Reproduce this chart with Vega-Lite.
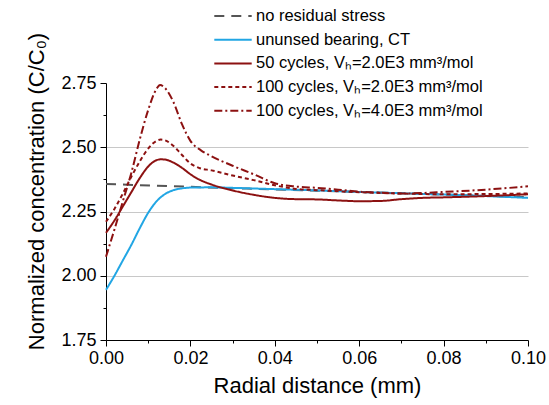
{
  "$schema": "https://vega.github.io/schema/vega-lite/v6.json",
  "width": 422,
  "height": 257,
  "autosize": {"type": "none"},
  "padding": {"left": 106, "top": 83, "right": 21, "bottom": 65},
  "background": "white",
  "config": {
    "view": {"stroke": null},
    "font": "Liberation Sans",
    "axis": {"domainColor": "black", "tickColor": "black", "labelColor": "black", "titleColor": "black", "labelFont": "Liberation Sans", "titleFont": "Liberation Sans", "titleFontWeight": "normal"},
    "legend": {"labelFont": "Liberation Sans", "labelColor": "black"}
  },
  "data": {
    "values": [
      {"s": "nrs", "x": 0, "c": 2.357},
      {"s": "nrs", "x": 0.02, "c": 2.346},
      {"s": "nrs", "x": 0.04, "c": 2.336},
      {"s": "nrs", "x": 0.06, "c": 2.326},
      {"s": "nrs", "x": 0.08, "c": 2.316},
      {"s": "nrs", "x": 0.1, "c": 2.306},
      {"s": "ct", "x": 0, "c": 1.945},
      {"s": "ct", "x": 0.002, "c": 2.0},
      {"s": "ct", "x": 0.004, "c": 2.06},
      {"s": "ct", "x": 0.006, "c": 2.12},
      {"s": "ct", "x": 0.008, "c": 2.185},
      {"s": "ct", "x": 0.01, "c": 2.245},
      {"s": "ct", "x": 0.012, "c": 2.29},
      {"s": "ct", "x": 0.014, "c": 2.318},
      {"s": "ct", "x": 0.016, "c": 2.333},
      {"s": "ct", "x": 0.018, "c": 2.34},
      {"s": "ct", "x": 0.02, "c": 2.343},
      {"s": "ct", "x": 0.025, "c": 2.344},
      {"s": "ct", "x": 0.03, "c": 2.342},
      {"s": "ct", "x": 0.04, "c": 2.337},
      {"s": "ct", "x": 0.05, "c": 2.332},
      {"s": "ct", "x": 0.06, "c": 2.326},
      {"s": "ct", "x": 0.07, "c": 2.321},
      {"s": "ct", "x": 0.08, "c": 2.316},
      {"s": "ct", "x": 0.09, "c": 2.31},
      {"s": "ct", "x": 0.1, "c": 2.303},
      {"s": "c50", "x": 0, "c": 2.167},
      {"s": "c50", "x": 0.002, "c": 2.215},
      {"s": "c50", "x": 0.004, "c": 2.27},
      {"s": "c50", "x": 0.006, "c": 2.325},
      {"s": "c50", "x": 0.008, "c": 2.38},
      {"s": "c50", "x": 0.01, "c": 2.425},
      {"s": "c50", "x": 0.012, "c": 2.45},
      {"s": "c50", "x": 0.013, "c": 2.453},
      {"s": "c50", "x": 0.014, "c": 2.452},
      {"s": "c50", "x": 0.016, "c": 2.44},
      {"s": "c50", "x": 0.018, "c": 2.42},
      {"s": "c50", "x": 0.02, "c": 2.395},
      {"s": "c50", "x": 0.022, "c": 2.375},
      {"s": "c50", "x": 0.025, "c": 2.355},
      {"s": "c50", "x": 0.03, "c": 2.332},
      {"s": "c50", "x": 0.035, "c": 2.315},
      {"s": "c50", "x": 0.04, "c": 2.303},
      {"s": "c50", "x": 0.045, "c": 2.298},
      {"s": "c50", "x": 0.05, "c": 2.297},
      {"s": "c50", "x": 0.055, "c": 2.293},
      {"s": "c50", "x": 0.06, "c": 2.29},
      {"s": "c50", "x": 0.065, "c": 2.291},
      {"s": "c50", "x": 0.07, "c": 2.298},
      {"s": "c50", "x": 0.075, "c": 2.303},
      {"s": "c50", "x": 0.08, "c": 2.305},
      {"s": "c50", "x": 0.09, "c": 2.31},
      {"s": "c50", "x": 0.1, "c": 2.317},
      {"s": "c100a", "x": 0, "c": 2.21},
      {"s": "c100a", "x": 0.002, "c": 2.26},
      {"s": "c100a", "x": 0.004, "c": 2.32},
      {"s": "c100a", "x": 0.006, "c": 2.385},
      {"s": "c100a", "x": 0.008, "c": 2.445},
      {"s": "c100a", "x": 0.01, "c": 2.495},
      {"s": "c100a", "x": 0.012, "c": 2.525},
      {"s": "c100a", "x": 0.013, "c": 2.53},
      {"s": "c100a", "x": 0.014, "c": 2.527},
      {"s": "c100a", "x": 0.016, "c": 2.505},
      {"s": "c100a", "x": 0.018, "c": 2.47},
      {"s": "c100a", "x": 0.02, "c": 2.437},
      {"s": "c100a", "x": 0.022, "c": 2.42},
      {"s": "c100a", "x": 0.025, "c": 2.41},
      {"s": "c100a", "x": 0.03, "c": 2.39},
      {"s": "c100a", "x": 0.035, "c": 2.372},
      {"s": "c100a", "x": 0.04, "c": 2.352},
      {"s": "c100a", "x": 0.045, "c": 2.338},
      {"s": "c100a", "x": 0.05, "c": 2.333},
      {"s": "c100a", "x": 0.06, "c": 2.325},
      {"s": "c100a", "x": 0.07, "c": 2.32},
      {"s": "c100a", "x": 0.08, "c": 2.317},
      {"s": "c100a", "x": 0.09, "c": 2.318},
      {"s": "c100a", "x": 0.1, "c": 2.32},
      {"s": "c100b", "x": 0, "c": 2.074},
      {"s": "c100b", "x": 0.002, "c": 2.18},
      {"s": "c100b", "x": 0.004, "c": 2.29},
      {"s": "c100b", "x": 0.006, "c": 2.4},
      {"s": "c100b", "x": 0.008, "c": 2.53},
      {"s": "c100b", "x": 0.01, "c": 2.645},
      {"s": "c100b", "x": 0.012, "c": 2.728},
      {"s": "c100b", "x": 0.0128, "c": 2.742},
      {"s": "c100b", "x": 0.014, "c": 2.73},
      {"s": "c100b", "x": 0.016, "c": 2.675},
      {"s": "c100b", "x": 0.018, "c": 2.59},
      {"s": "c100b", "x": 0.02, "c": 2.525},
      {"s": "c100b", "x": 0.0225, "c": 2.488},
      {"s": "c100b", "x": 0.025, "c": 2.465},
      {"s": "c100b", "x": 0.03, "c": 2.428},
      {"s": "c100b", "x": 0.035, "c": 2.395},
      {"s": "c100b", "x": 0.04, "c": 2.36},
      {"s": "c100b", "x": 0.045, "c": 2.347},
      {"s": "c100b", "x": 0.05, "c": 2.342},
      {"s": "c100b", "x": 0.055, "c": 2.335},
      {"s": "c100b", "x": 0.06, "c": 2.327},
      {"s": "c100b", "x": 0.065, "c": 2.323},
      {"s": "c100b", "x": 0.07, "c": 2.32},
      {"s": "c100b", "x": 0.075, "c": 2.322},
      {"s": "c100b", "x": 0.08, "c": 2.326},
      {"s": "c100b", "x": 0.09, "c": 2.335},
      {"s": "c100b", "x": 0.1, "c": 2.348}
    ]
  },
  "layer": [
    {
      "mark": {"type": "line", "interpolate": "monotone", "strokeWidth": 2},
      "encoding": {
        "x": {
          "field": "x", "type": "quantitative",
          "scale": {"domain": [0, 0.1], "nice": false, "zero": false},
          "axis": {"orient": "bottom", "values": [0, 0.02, 0.04, 0.06, 0.08, 0.1], "format": ".2f", "grid": false, "tickSize": 6, "labelFontSize": 18, "labelPadding": 3, "title": "Radial distance (mm)", "titleFontSize": 22, "titlePadding": 8, "labelFlush": false}
        },
        "y": {
          "field": "c", "type": "quantitative",
          "scale": {"domain": [1.75, 2.75], "nice": false, "zero": false},
          "axis": {"orient": "left", "values": [1.75, 2.0, 2.25, 2.5, 2.75], "format": ".2f", "grid": true, "gridColor": "#c8c8c8", "gridOpacity": {"condition": {"test": "datum.value > 1.8 && datum.value < 2.7", "value": 1}, "value": 0}, "tickSize": 6, "labelFontSize": 18, "labelPadding": 4, "title": "Normalized concentration (C/C₀)", "titleFontSize": 22, "titlePadding": 12, "titleY": 108}
        },
        "color": {
          "field": "s", "type": "nominal",
          "scale": {"domain": ["nrs", "ct", "c50", "c100a", "c100b"], "range": ["#555555", "#22a6e4", "#8c1111", "#8c1111", "#8c1111"]},
          "legend": {
            "title": null, "orient": "none", "legendX": 115, "legendY": -79, "padding": 0,
            "symbolType": "M-1.7,0H1.7", "symbolSize": 484, "symbolStrokeWidth": 2, "symbolFillColor": "transparent", "labelFontSize": 16.5, "labelOffset": 11, "rowPadding": 2.7, "labelLimit": 400,
            "labelExpr": "{'nrs': 'no residual stress', 'ct': 'ununsed bearing, CT', 'c50': '50 cycles, Vₕ=2.0E3 mm³/mol', 'c100a': '100 cycles, Vₕ=2.0E3 mm³/mol', 'c100b': '100 cycles, Vₕ=4.0E3 mm³/mol'}[datum.value]"
          }
        },
        "strokeDash": {
          "field": "s", "type": "nominal",
          "scale": {"domain": ["nrs", "ct", "c50", "c100a", "c100b"], "range": [[10, 7], [1, 0], [1, 0], [4, 3], [8, 3, 2, 3]]},
          "legend": {
            "title": null, "orient": "none", "legendX": 115, "legendY": -79, "padding": 0,
            "symbolType": "M-1.7,0H1.7", "symbolSize": 484, "symbolStrokeWidth": 2, "symbolFillColor": "transparent", "labelFontSize": 16.5, "labelOffset": 11, "rowPadding": 2.7, "labelLimit": 400,
            "labelExpr": "{'nrs': 'no residual stress', 'ct': 'ununsed bearing, CT', 'c50': '50 cycles, Vₕ=2.0E3 mm³/mol', 'c100a': '100 cycles, Vₕ=2.0E3 mm³/mol', 'c100b': '100 cycles, Vₕ=4.0E3 mm³/mol'}[datum.value]"
          }
        }
      }
    },
    {
      "mark": {"type": "point", "opacity": 0},
      "encoding": {
        "x": {
          "field": "x", "type": "quantitative",
          "axis": {"orient": "bottom", "values": [0.01, 0.03, 0.05, 0.07, 0.09], "labels": false, "domain": false, "grid": false, "tickSize": 3, "title": null}
        },
        "y": {
          "field": "c", "type": "quantitative",
          "axis": {"orient": "left", "values": [1.875, 2.125, 2.375, 2.625], "labels": false, "domain": false, "grid": false, "tickSize": 3, "title": null}
        }
      }
    }
  ],
  "resolve": {"axis": {"x": "independent", "y": "independent"}}
}
